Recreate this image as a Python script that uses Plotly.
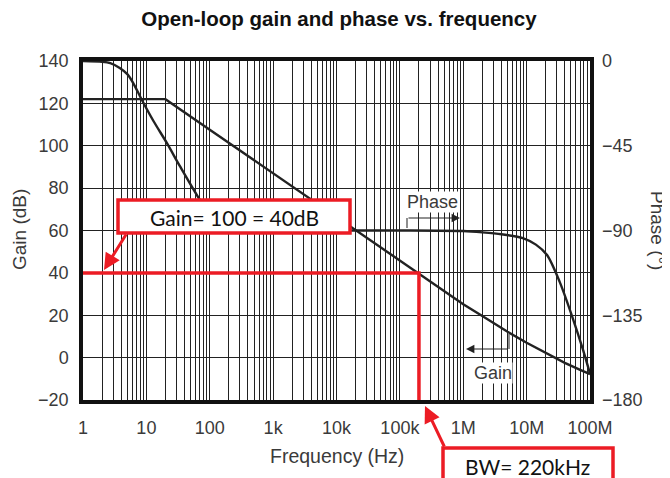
import plotly.graph_objects as go

# ---------------- data ----------------
gain_freq = [1, 20, 100, 1e3, 1e4, 1e5, 1e6, 2e6, 3e6, 5e6, 1e7, 2e7, 4e7, 7e7, 1e8]
gain_db = [122, 122, 107.6, 87, 66.4, 45.8, 25.2, 19.6, 16.2, 12.2, 7.0, 2.2, -2.5, -5.8, -7.8]

phase_freq = [1, 2, 2.7, 3.8, 5, 6.2, 8.5, 13, 21, 34, 70, 100, 130, 180, 250,
              1e3, 1e4, 1e5, 1e6, 2e6, 4e6, 8.7e6, 1.4e7, 2.1e7, 3.3e7, 5.4e7, 7.7e7, 1e8]
phase_deg = [0, -0.4, -1.1, -3.7, -7, -11.7, -20.7, -32, -43.5, -56, -73.8, -81, -87, -89.6, -90,
             -90, -90, -90, -90.3, -91, -92, -94, -97.5, -103, -117, -137, -153, -166]

bw_freq = 2e5          # where the 40 dB line meets the gain curve (as drawn)
closed_gain_db = 40
y_min_db = -20

x_tick_vals = [1, 10, 100, 1e3, 1e4, 1e5, 1e6, 1e7, 1e8]
x_tick_text = ["1", "10", "100", "1k", "10k", "100k", "1M", "10M", "100M"]
y_ticks = [-20, 0, 20, 40, 60, 80, 100, 120, 140]
phase_ticks = [0, -45, -90, -135, -180]

title = "Open-loop gain and phase vs. frequency"
gain_box_text = "Gain= 100 = 40dB"
bw_box_text = "BW= 220kHz"

# ---------------- figure ----------------
grid_vals, grid_text = [], []
for d in range(8):
    for m in range(1, 10):
        v = m * 10 ** d
        grid_vals.append(v)
        grid_text.append(x_tick_text[d] if m == 1 else "")
grid_vals.append(1e8)
grid_text.append(x_tick_text[-1])

RED = "#ec1c24"
INK = "#222222"
LBL = "#3a3a3a"
FONT = "Liberation Sans, Arial, sans-serif"
BOXFONT = "Lato, Carlito, sans-serif"

# page body has an 8px margin: figure is 662x470 placed at (8, 8)
W, H = 662, 470

fig = go.Figure()
fig.add_trace(go.Scatter(x=gain_freq, y=gain_db, mode="lines",
                         line=dict(color=INK, width=2.4), showlegend=False))
fig.add_trace(go.Scatter(x=phase_freq, y=phase_deg, mode="lines", yaxis="y2",
                         line=dict(color=INK, width=2.4, shape="spline", smoothing=0.8),
                         showlegend=False))
fig.add_trace(go.Scatter(x=[1, bw_freq, bw_freq], y=[closed_gain_db, closed_gain_db, y_min_db],
                         mode="lines", line=dict(color=RED, width=3.5), showlegend=False,
                         cliponaxis=False))

fig.update_layout(
    width=W, height=H,
    margin=dict(l=75, r=80, t=53, b=78),
    paper_bgcolor="white", plot_bgcolor="white",
    title=dict(text="<b>" + title + "</b>", x=0.5, xanchor="center", y=1 - 4.0 / H, yanchor="top",
               font=dict(family=FONT, size=20.5, color="#111")),
    font=dict(family=FONT, size=18, color=LBL),
    xaxis=dict(type="log", range=[0, 8], tickmode="array", tickvals=grid_vals, ticktext=grid_text,
               showgrid=True, gridcolor=INK, gridwidth=1.3, ticks="", ticklabelstandoff=9,
               showline=True, linecolor="#111", linewidth=3.5, mirror=True, zeroline=False,
               tickfont=dict(size=18, color=LBL)),
    yaxis=dict(range=[-20, 140], tickmode="array", tickvals=y_ticks,
               showgrid=True, gridcolor=INK, gridwidth=1.3, ticks="", ticklabelstandoff=7,
               showline=True, linecolor="#111", linewidth=3.5, mirror=True, zeroline=False,
               tickfont=dict(size=18, color=LBL)),
    yaxis2=dict(range=[-180, 0], overlaying="y", side="right", tickmode="array",
                tickvals=phase_ticks, showgrid=False, zeroline=False, ticks="",
                ticklabelstandoff=11, tickfont=dict(size=18, color=LBL), showline=False),
)

def px(xp):
    return (xp - 83) / 507.0

def py(yp):
    return (400 - yp) / 339.0

C = dict(xref="paper", yref="paper", xanchor="center", yanchor="middle")

# axis titles
fig.add_annotation(text="Frequency (Hz)", x=px(337), y=py(456), showarrow=False,
                   font=dict(size=19.5, color=LBL), **C)
fig.add_annotation(text="Gain (dB)", x=px(19), y=py(230), textangle=-90, showarrow=False,
                   font=dict(size=19, color=LBL), **C)
fig.add_annotation(text="Phase (°)", x=px(658), y=py(230), textangle=90, showarrow=False,
                   font=dict(size=19, color=LBL), **C)

# red annotation boxes
fig.add_shape(type="rect", xref="paper", yref="paper", x0=px(118), x1=px(350), y0=py(233), y1=py(200),
              line=dict(color=RED, width=3.5), fillcolor="white", layer="above")
fig.add_annotation(text=gain_box_text, x=px(234), y=py(217), showarrow=False,
                   font=dict(family=BOXFONT, size=21, color="#111"), **C)
fig.add_annotation(text="", xref="paper", yref="paper", x=px(104), y=py(270), ax=23, ay=-37,
                   showarrow=True, arrowhead=2, arrowsize=1.1, arrowwidth=3, arrowcolor=RED)

fig.add_shape(type="rect", xref="paper", yref="paper", x0=px(443), x1=px(613), y0=py(495), y1=py(448),
              line=dict(color=RED, width=3.5), fillcolor="white", layer="above")
fig.add_annotation(text=bw_box_text, x=px(527), y=py(466), showarrow=False,
                   font=dict(family=BOXFONT, size=21, color="#111"), **C)
fig.add_annotation(text="", xref="paper", yref="paper", x=px(425), y=py(406), ax=20, ay=42,
                   showarrow=True, arrowhead=2, arrowsize=1.1, arrowwidth=3, arrowcolor=RED)

# black "Phase" / "Gain" pointers
fig.add_annotation(text="Phase", x=px(432), y=py(202), showarrow=False, bgcolor="white",
                   font=dict(size=18, color=LBL), borderpad=0, **C)
fig.add_shape(type="line", xref="paper", yref="paper", x0=px(407), x1=px(407), y0=py(228), y1=py(218),
              line=dict(color="#444", width=1.2))
fig.add_annotation(text="", xref="paper", yref="paper", x=px(460), y=py(218), ax=-53, ay=0,
                   showarrow=True, arrowhead=2, arrowsize=1.4, arrowwidth=1.2, arrowcolor="#222")

fig.add_annotation(text="Gain", x=px(493), y=py(373), showarrow=False, bgcolor="white",
                   font=dict(size=18, color=LBL), borderpad=0, **C)
fig.add_shape(type="line", xref="paper", yref="paper", x0=px(509), x1=px(509), y0=py(334), y1=py(349),
              line=dict(color="#444", width=1.2))
fig.add_annotation(text="", xref="paper", yref="paper", x=px(466), y=py(349), ax=43, ay=0,
                   showarrow=True, arrowhead=2, arrowsize=1.4, arrowwidth=1.2, arrowcolor="#222")

fig.write_html("out.html")
